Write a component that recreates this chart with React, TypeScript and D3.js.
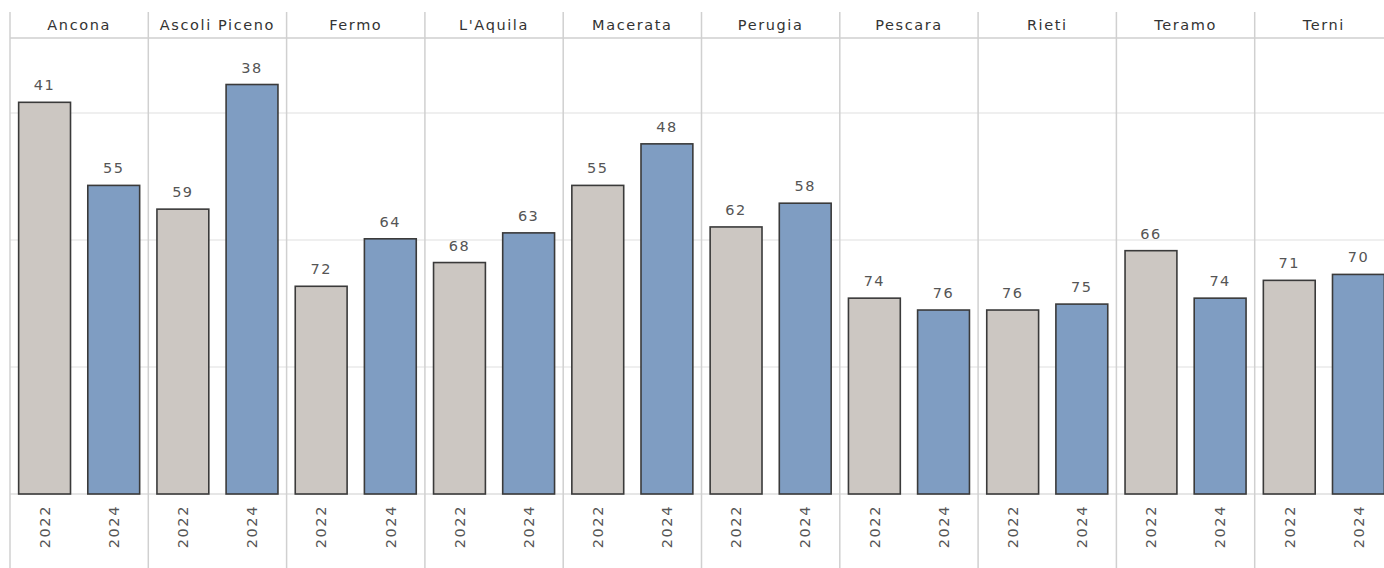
import React, { useEffect } from "react";
import * as d3 from "d3";

const provinces = ["Ancona", "Ascoli Piceno", "Fermo", "L'Aquila", "Macerata", "Perugia", "Pescara", "Rieti", "Teramo", "Terni"];
const years = ["2022", "2024"];
const rank2022 = [41, 59, 72, 68, 55, 62, 74, 76, 66, 71];
const rank2024 = [55, 38, 64, 63, 48, 58, 76, 75, 74, 70];
const totalProvinces = 107;
const gridTicks = [0.2, 0.4, 0.6, 0.8];

const W = 1384;
const H = 568;
const left = 10;
const panelW = 138.3;
const headerTop = 12;
const headerLine = 38;
const baseline = 494;
const fullHeight = 635;

const colors: Record<string, string> = { "2022": "#ccc7c2", "2024": "#7f9dc2" };
const font = "'DejaVu Sans', Verdana, sans-serif";

export default function App() {
  useEffect(() => {
    document.body.style.margin = "0";
    document.body.style.overflow = "hidden";
  }, []);

  const xOuter = d3.scaleBand<string>().domain(provinces).range([left, left + panelW * provinces.length]).padding(0);
  const xInner = d3.scaleBand<string>().domain(years).range([0, panelW]).paddingInner(0.25).paddingOuter(0.125);
  // bar measure: share of provinces ranked below (1 - rank / total)
  const y = d3.scaleLinear().domain([0, 1]).range([baseline, baseline - fullHeight]);
  const score = (r: number) => 1 - r / totalProvinces;

  const rows = provinces.map((p, i) => ({ p, vals: [
    { year: "2022", rank: rank2022[i] },
    { year: "2024", rank: rank2024[i] },
  ] }));

  return (
    <svg width={W} height={H} style={{ position: "absolute", left: 0, top: 0, background: "#fff" }}>
      {/* gridlines */}
      {gridTicks.map((t) => (
        y(t) > headerLine ? (
          <line key={t} x1={left} x2={W} y1={y(t)} y2={y(t)} stroke="#efefef" strokeWidth={2} />
        ) : null
      ))}
      {/* header line */}
      <line x1={left} x2={W} y1={headerLine} y2={headerLine} stroke="#cfcfcf" strokeWidth={1.5} />
      {/* baseline */}
      <line x1={left} x2={W} y1={baseline} y2={baseline} stroke="#dedede" strokeWidth={1.5} />
      {/* panel separators */}
      {provinces.map((p) => (
        <line key={p} x1={xOuter(p)!} x2={xOuter(p)!} y1={headerTop} y2={H} stroke="#d0d0d0" strokeWidth={1.5} />
      ))}
      {rows.map(({ p, vals }) => {
        const x0 = xOuter(p)!;
        return (
          <g key={p}>
            <text x={x0 + panelW / 2} y={30} textAnchor="middle" fontFamily={font} fontSize={14.5} letterSpacing={1.6} fill="#333">
              {p}
            </text>
            {vals.map((v) => {
              const bx = x0 + xInner(v.year)!;
              const bw = xInner.bandwidth();
              const top = y(score(v.rank));
              const cx = bx + bw / 2;
              return (
                <g key={v.year}>
                  <rect x={bx} y={top} width={bw} height={baseline - top} fill={colors[v.year]} stroke="#3a3a3a" strokeWidth={1.6} />
                  <text x={cx} y={top - 12} textAnchor="middle" fontFamily={font} fontSize={14.5} letterSpacing={1.5} fill="#555">
                    {v.rank}
                  </text>
                  <text transform={`translate(${cx},505) rotate(-90)`} textAnchor="end" dy="0.36em" fontFamily={font} fontSize={14.5} letterSpacing={1.6} fill="#555">
                    {v.year}
                  </text>
                </g>
              );
            })}
          </g>
        );
      })}
    </svg>
  );
}
